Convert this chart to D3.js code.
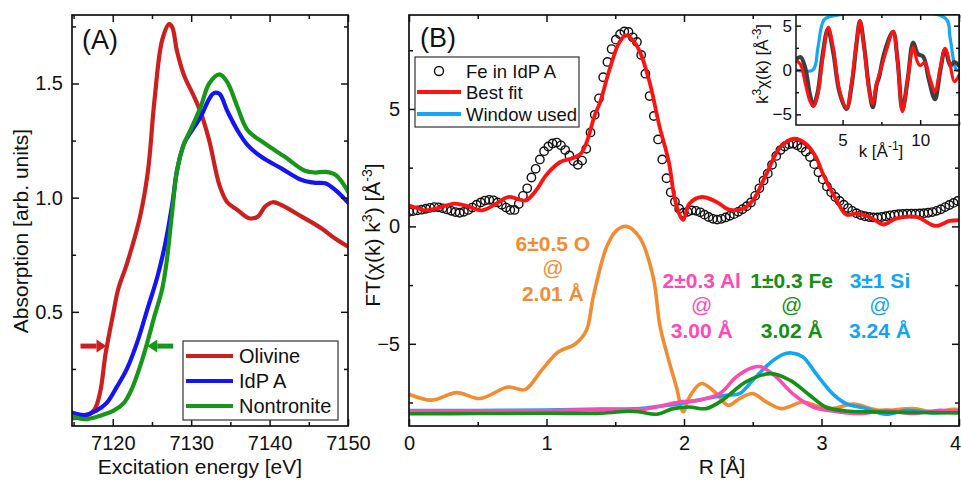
<!DOCTYPE html>
<html>
<head>
<meta charset="utf-8">
<script src="https://cdn.jsdelivr.net/npm/d3@7"></script>
<style>
  body { margin: 0; background: #fff; }
  svg text { font-family: "Liberation Sans", Arial, Helvetica, sans-serif; }
</style>
</head>
<body>
<svg id="chart" width="961" height="480"></svg>
<script>
// ---------- Panel A: Fe K-edge XANES ----------
const energyOlivine = [7114.6,7116.7,7117.7,7118.4,7119.1,7120.1,7120.7,7121.8,7123.5,7124.5,7125.3,7126.3,7127.2,7127.6,7128.2,7129.1,7130.4,7131.2,7132.3,7133.6,7134.6,7135.9,7137.4,7138.5,7139.4,7140.4,7141.5,7144.1,7146.6,7148.4,7150.3];
const absOlivine    = [0.033,0.045,0.074,0.15,0.32,0.50,0.60,0.71,0.92,1.12,1.42,1.69,1.76,1.745,1.64,1.535,1.44,1.375,1.25,1.055,0.98,0.946,0.91,0.917,0.96,0.98,0.968,0.917,0.866,0.82,0.78];

const energyIdpA = [7114.6,7116.4,7117.9,7119.2,7120.5,7121.8,7123.1,7124.4,7125.7,7126.7,7127.6,7128.2,7129.1,7130.1,7131.2,7132.3,7132.9,7133.6,7134.6,7135.9,7137.2,7138.9,7141.5,7144.1,7145.8,7147.1,7148.4,7150.3];
const absIdpA    = [0.06,0.048,0.067,0.10,0.17,0.25,0.365,0.51,0.655,0.80,0.975,1.12,1.237,1.295,1.353,1.433,1.458,1.455,1.38,1.295,1.23,1.18,1.128,1.077,1.065,1.063,1.033,0.968];

const energyNontronite = [7114.6,7116.4,7118.4,7120.1,7121.4,7122.4,7123.5,7124.4,7125.2,7126.3,7126.9,7127.6,7128.2,7129.1,7130.1,7131.2,7132.3,7133.6,7134.6,7135.9,7137.2,7139.4,7141.9,7144.5,7145.8,7147.1,7148.4,7150.3];
const absNontronite    = [0.045,0.03,0.045,0.067,0.10,0.16,0.263,0.365,0.467,0.60,0.728,0.946,1.12,1.237,1.31,1.397,1.50,1.54,1.506,1.397,1.295,1.237,1.18,1.118,1.11,1.113,1.10,1.01];

const xanesNames = ["Olivine", "IdP A", "Nontronite"];
const xanesTicks = [7120, 7130, 7140, 7150];
const xanesMinor = [7115, 7125, 7135, 7145];
const absTicks   = [0.5, 1.0, 1.5];
const absMinor   = [0.25, 0.75, 1.25, 1.75];
// edge positions marked with arrows (energy, absorption)
const edgeOlivine = [7119.2, 0.35];
const edgeNontronite = [7124.4, 0.35];

// ---------- Panel B: Fourier transform ----------
const rStep = 0.0307;
const ftIdpA = [0.62,0.65,0.68,0.71,0.75,0.79,0.82,0.81,0.77,0.72,
                0.66,0.61,0.58,0.62,0.70,0.80,0.92,1.02,1.10,1.13,
                1.11,1.02,0.92,0.80,0.70,0.70,0.95,1.30,1.62,2.08,
                2.45,2.85,3.20,3.40,3.53,3.57,3.45,3.25,3.02,2.78,
                2.62,2.80,3.30,4.00,4.75,5.45,6.35,7.00,7.55,7.95,
                8.18,8.30,8.28,8.05,7.85,7.30,6.50,5.55,4.70,3.70,
                2.85,2.05,1.45,1.05,0.75,0.58,0.62,0.68,0.66,0.60,
                0.50,0.40,0.32,0.29,0.32,0.38,0.45,0.52,0.62,0.73,
                0.86,1.02,1.30,1.62,1.95,2.25,2.62,3.00,3.25,3.40,
                3.50,3.52,3.45,3.35,3.18,2.95,2.65,2.30,2.00,1.70,
                1.45,1.25,1.08,0.92,0.78,0.66,0.56,0.48,0.43,0.40,
                0.38,0.38,0.40,0.43,0.47,0.50,0.52,0.53,0.54,0.54,
                0.54,0.55,0.56,0.58,0.61,0.66,0.73,0.82,0.91,1.00,
                1.08];

const fitR = [0.00,0.06,0.12,0.22,0.33,0.43,0.53,0.63,0.72,0.80,0.85,0.92,1.00,1.10,1.19,1.25,1.29,1.35,1.39,1.46,1.53,1.58,1.63,1.68,1.75,1.82,1.89,1.93,1.97,1.995,2.04,2.13,2.24,2.33,2.43,2.50,2.60,2.70,2.80,2.89,2.96,3.01,3.11,3.18,3.25,3.35,3.45,3.54,3.69,3.83,3.93,4.00];
const fitV = [0.89,0.78,0.68,0.80,0.97,0.85,0.68,0.95,1.25,1.15,1.10,1.50,2.20,2.74,2.90,3.10,3.55,4.72,5.29,6.71,7.84,8.13,7.91,7.42,6.14,4.30,2.74,1.25,0.47,0.28,0.97,1.25,1.03,0.71,0.75,1.10,2.24,3.37,3.73,3.50,2.95,2.24,1.10,0.50,0.54,0.40,0.08,0.33,0.40,0.02,0.23,0.26];

// single-shell contributions (offset below the data)
const shellOR = [0,0.165,0.347,0.516,0.72,0.843,0.964,1.085,1.206,1.29,1.34,1.437,1.51,1.582,1.68,1.776,1.824,1.87,1.945,1.994,2.04,2.127,2.236,2.32,2.405,2.50,2.60,2.71,2.865,2.99,3.08,3.23,3.42,3.665,3.81,3.955,4.0];
const shellOV = [-7.15,-7.40,-7.08,-7.33,-6.84,-6.95,-6.13,-5.35,-5.02,-4.43,-3.0,-0.88,-0.17,0,-0.5,-2.16,-4.2,-5.3,-6.84,-7.9,-7.26,-6.69,-7.12,-7.62,-7.33,-7.12,-7.48,-7.76,-7.48,-7.69,-7.76,-7.57,-7.83,-7.76,-7.9,-7.79,-7.8];

const shellAlR = [0,0.5,1.0,1.4,1.68,1.97,2.11,2.26,2.38,2.5,2.56,2.67,2.79,2.94,3.08,3.28,3.47,3.665,3.86,4.0];
const shellAlV = [-7.88,-7.87,-7.85,-7.8,-7.8,-7.48,-7.4,-7.12,-6.41,-6.01,-5.98,-6.41,-7.12,-7.69,-7.86,-7.97,-7.83,-7.97,-7.83,-7.9];

const shellSiR = [0,0.5,1.0,1.4,1.68,1.82,1.97,2.16,2.31,2.405,2.50,2.62,2.72,2.78,2.865,2.96,3.08,3.18,3.33,3.47,3.62,3.81,4.0];
const shellSiV = [-7.84,-7.84,-7.82,-7.78,-7.76,-7.66,-7.55,-7.33,-7.19,-7.12,-6.55,-5.84,-5.45,-5.39,-5.56,-6.27,-7.12,-7.55,-7.76,-8.0,-7.83,-7.94,-7.86];

const shellFeR = [0,0.5,1.0,1.4,1.6,1.68,1.80,1.92,2.04,2.16,2.28,2.45,2.635,2.77,2.914,3.03,3.18,3.36,3.6,3.8,4.0];
const shellFeV = [-7.98,-7.97,-7.96,-7.95,-7.87,-7.9,-8.0,-7.76,-7.69,-7.76,-7.4,-6.62,-6.27,-6.55,-7.19,-7.69,-7.86,-7.9,-7.92,-7.93,-7.94];

const shellLabels = [
  ["6±0.5 O", "@", "2.01 Å"],
  ["2±0.3 Al", "@", "3.00 Å"],
  ["1±0.3 Fe", "@", "3.02 Å"],
  ["3±1 Si", "@", "3.24 Å"]
];
const shellLabelAt = [[1.046, -1.05], [2.129, -2.62], [2.783, -2.62], [3.425, -2.62]];

const rTicks = [0, 1, 2, 3, 4];
const rMinor = [0.5, 1.5, 2.5, 3.5];
const ftTicks = [-5, 0, 5];
const ftMinor = [-7.5, -2.5, 2.5, 7.5];
const ftLegend = ["Fe in IdP A", "Best fit", "Window used"];

// ---------- Inset: k-space ----------
const kData = [2.0,2.3,2.6,2.9,3.12,3.4,3.7,4.05,4.4,4.8,5.25,5.6,5.9,6.12,6.4,6.7,6.95,7.2,7.35,7.7,8.25,8.55,8.85,9.2,9.55,9.85,10.2,10.55,10.95,11.3,11.6,11.95,12.2,12.5];
const chiData = [1.2,1.45,0.2,-2.8,-4.0,-2.5,1.5,4.6,2.0,-2.5,-4.4,-1.5,3.0,5.5,2.5,-2.0,-4.2,-1.6,-0.8,2.0,4.3,1.0,-4.5,-1.0,3.1,1.8,1.5,-1.0,-3.3,0.0,2.3,0.5,0.9,0.5];
const kFit = [2.0,2.3,2.6,2.9,3.12,3.4,3.7,4.08,4.4,4.8,5.26,5.6,5.9,6.12,6.4,6.7,6.93,7.18,7.5,7.82,8.26,8.55,8.86,9.2,9.55,9.8,9.98,10.3,10.6,10.95,11.3,11.6,11.9,12.2,12.5];
const chiFit = [1.1,0.6,-1.5,-3.5,-4.1,-2.8,1.0,4.8,2.5,-2.3,-4.3,-1.2,3.2,5.55,2.3,-2.2,-3.8,-1.6,0.3,2.2,4.35,0.8,-4.7,-1.0,2.55,1.0,0.5,0.85,-0.8,-2.4,0.3,2.45,0.8,-1.3,-0.6];
const kWindow = [2.0,3.09,3.41,3.69,3.95,11.6,11.92,12.14,12.34,12.5];
const wWindow = [0,0,2.5,5.2,5.86,5.86,3.7,1.2,0,0];
const kTicks = [5, 10];
const kMinor = [7.5, 12.5];
const chiTicks = [-5, 0, 5];
const chiMinor = [-2.5, 2.5];

// ---------- drawing ----------
const svg = d3.select("#chart");
const FONT = '"Liberation Sans", Arial, Helvetica, sans-serif';
const colA = { ol: "#cc1f1f", idp: "#1414f5", non: "#18961a" };
const colB = { fit: "#ff1212", O: "#f28c33", Al: "#ff49b4", Fe: "#158f15", Si: "#13a4f4", win: "#17a6f3", data: "#3f3f3f" };

function frameAxes(g, x, y, o) {
  const [x0, x1] = x.range(), [y0, y1] = y.range();
  const addAxis = (gen, tr, vals, size, fmt, pad, fs) => {
    const a = g.append("g").attr("transform", tr)
      .call(gen.tickValues(vals).tickSize(-size).tickSizeOuter(0).tickPadding(pad).tickFormat(fmt));
    a.select(".domain").remove();
    a.selectAll("line").attr("stroke", "#111").attr("stroke-width", o.tw || 1.5);
    a.selectAll("text").attr("font-family", FONT).attr("font-size", fs).attr("fill", "#111");
    a.attr("font-family", null).attr("font-size", null);
    return a;
  };
  const none = () => "";
  const bx = addAxis(d3.axisBottom(x), `translate(0,${y0})`, o.xMajor, o.maj, o.xFmt, o.xPad, o.fs);
  addAxis(d3.axisBottom(x), `translate(0,${y0})`, o.xMinor, o.min, none, 0, o.fs);
  addAxis(d3.axisTop(x), `translate(0,${y1})`, o.xMajor, o.maj, none, 0, o.fs);
  addAxis(d3.axisTop(x), `translate(0,${y1})`, o.xMinor, o.min, none, 0, o.fs);
  addAxis(d3.axisLeft(y), `translate(${x0},0)`, o.yMajor, o.maj, o.yFmt, o.yPad, o.fs);
  addAxis(d3.axisLeft(y), `translate(${x0},0)`, o.yMinor, o.min, none, 0, o.fs);
  addAxis(d3.axisRight(y), `translate(${x1},0)`, o.yMajor, o.maj, none, 0, o.fs);
  addAxis(d3.axisRight(y), `translate(${x1},0)`, o.yMinor, o.min, none, 0, o.fs);
  g.append("rect").attr("x", x0).attr("y", y1).attr("width", x1 - x0).attr("height", y0 - y1)
    .attr("fill", "none").attr("stroke", "#111").attr("stroke-width", o.fw || 1.7);
  return bx;
}

function clipFor(id, x, y) {
  const [x0, x1] = x.range(), [y0, y1] = y.range();
  svg.append("clipPath").attr("id", id).append("rect")
    .attr("x", x0).attr("y", y1).attr("width", x1 - x0).attr("height", y0 - y1);
  return `url(#${id})`;
}

function curve(g, x, y, xs, ys, color, width, clip) {
  const pts = xs.map((d, i) => [d, ys[i]]);
  g.append("path").datum(pts)
    .attr("d", d3.line().x(d => x(d[0])).y(d => y(d[1])).curve(d3.curveCatmullRom.alpha(0.5)))
    .attr("fill", "none").attr("stroke", color).attr("stroke-width", width)
    .attr("stroke-linejoin", "round").attr("stroke-linecap", "round")
    .attr("clip-path", clip);
}

// ===== Panel A =====
const xA = d3.scaleLinear().domain([7114.8, 7150]).range([72, 348]);
const yA = d3.scaleLinear().domain([0, 1.8]).range([426, 15]);
const gA = svg.append("g");
const clipA = clipFor("clipA", xA, yA);

curve(gA, xA, yA, energyOlivine, absOlivine, colA.ol, 4.2, clipA);
curve(gA, xA, yA, energyIdpA, absIdpA, colA.idp, 4.2, clipA);
curve(gA, xA, yA, energyNontronite, absNontronite, colA.non, 4.2, clipA);

frameAxes(gA, xA, yA, {
  xMajor: xanesTicks, xMinor: xanesMinor, yMajor: absTicks, yMinor: absMinor,
  xFmt: d3.format("d"), yFmt: d3.format(".1f"), maj: 7, min: 4, xPad: 10, yPad: 9, fs: 20
});

// edge arrows
function arrow(g, xTip, yc, dir, color) {
  const len = 26, head = 10, hw = 6.5, lw = 5;
  const s = dir === "right" ? -1 : 1; // tail direction
  const xb = xTip + s * head;
  g.append("line").attr("x1", xTip + s * len).attr("x2", xb).attr("y1", yc).attr("y2", yc)
    .attr("stroke", color).attr("stroke-width", lw);
  g.append("path").attr("d", `M${xTip},${yc} L${xb},${yc - hw} L${xb},${yc + hw} Z`).attr("fill", color);
}
arrow(gA, xA(edgeOlivine[0]), yA(edgeOlivine[1]), "right", colA.ol);
arrow(gA, xA(edgeNontronite[0]), yA(edgeNontronite[1]), "left", colA.non);

// legend A
const legA = gA.append("g");
legA.append("rect").attr("x", 183).attr("y", 341).attr("width", 155).attr("height", 79)
  .attr("fill", "#fff").attr("stroke", "#333").attr("stroke-width", 1.2);
[colA.ol, colA.idp, colA.non].forEach((c, i) => {
  const yy = 356 + i * 25;
  legA.append("line").attr("x1", 186).attr("x2", 233).attr("y1", yy).attr("y2", yy)
    .attr("stroke", c).attr("stroke-width", 4.2);
  legA.append("text").attr("x", 239).attr("y", yy + 7).attr("font-size", 20).attr("fill", "#111")
    .text(xanesNames[i]);
});

gA.append("text").attr("x", 82).attr("y", 49).attr("font-size", 27).attr("fill", "#111").text("(A)");
gA.append("text").attr("x", 200).attr("y", 474).attr("text-anchor", "middle").attr("font-size", 21)
  .attr("fill", "#111").text("Excitation energy [eV]");
gA.append("text").attr("transform", "translate(28,231) rotate(-90)").attr("text-anchor", "middle")
  .attr("font-size", 21).attr("fill", "#111").text("Absorption [arb. units]");

// ===== Panel B =====
const xB = d3.scaleLinear().domain([0, 4]).range([409, 959]);
const yB = d3.scaleLinear().domain([-8.5, 9]).range([426, 15]);
const gB = svg.append("g");
const clipB = clipFor("clipB", xB, yB);

curve(gB, xB, yB, shellOR, shellOV, colB.O, 3.6, clipB);
curve(gB, xB, yB, shellSiR, shellSiV, colB.Si, 3.6, clipB);
curve(gB, xB, yB, shellAlR, shellAlV, colB.Al, 3.6, clipB);
curve(gB, xB, yB, shellFeR, shellFeV, colB.Fe, 3.6, clipB);

gB.append("g").attr("clip-path", clipB).selectAll("circle")
  .data(ftIdpA).join("circle")
  .attr("cx", (d, i) => xB(i * rStep)).attr("cy", d => yB(d)).attr("r", 4.2)
  .attr("fill", "none").attr("stroke", "#111").attr("stroke-width", 1.4);

curve(gB, xB, yB, fitR, fitV, colB.fit, 3.8, clipB);

const bAxis = frameAxes(gB, xB, yB, {
  xMajor: rTicks, xMinor: rMinor, yMajor: ftTicks, yMinor: ftMinor,
  xFmt: d3.format("d"), yFmt: d3.format("d"), maj: 7, min: 4, xPad: 10, yPad: 9, fs: 20
});
// last R label sits at the page edge: pull it in slightly
bAxis.selectAll(".tick text").filter(d => d === 4).attr("dx", -4);

// shell annotations
const shellColors = [colB.O, colB.Al, colB.Fe, colB.Si];
shellLabels.forEach((lines, i) => {
  const t = gB.append("text").attr("text-anchor", "middle").attr("fill", shellColors[i]).attr("font-size", 21);
  lines.forEach((s, j) => {
    t.append("tspan").attr("x", xB(shellLabelAt[i][0]))
      .attr("y", yB(shellLabelAt[i][1]) + [0, 24, 50][j])
      .attr("font-weight", j === 1 ? "normal" : "bold").text(s);
  });
});

// legend B
const legB = gB.append("g");
legB.append("rect").attr("x", 415).attr("y", 57).attr("width", 164).attr("height", 70)
  .attr("fill", "#fff").attr("stroke", "#333").attr("stroke-width", 1.2);
legB.append("circle").attr("cx", 439).attr("cy", 71).attr("r", 4.5)
  .attr("fill", "none").attr("stroke", "#111").attr("stroke-width", 1.4);
legB.append("line").attr("x1", 417).attr("x2", 461).attr("y1", 92).attr("y2", 92)
  .attr("stroke", colB.fit).attr("stroke-width", 4);
legB.append("line").attr("x1", 417).attr("x2", 461).attr("y1", 114).attr("y2", 114)
  .attr("stroke", colB.win).attr("stroke-width", 4);
ftLegend.forEach((s, i) => {
  legB.append("text").attr("x", 466).attr("y", 77.5 + i * 21.5).attr("font-size", 18.5).attr("fill", "#111").text(s);
});

gB.append("text").attr("x", 420).attr("y", 47).attr("font-size", 27).attr("fill", "#111").text("(B)");
gB.append("text").attr("x", 722).attr("y", 474).attr("text-anchor", "middle").attr("font-size", 21)
  .attr("fill", "#111").text("R [Å]");
const yLabB = gB.append("text").attr("transform", "translate(380,235) rotate(-90)").attr("text-anchor", "middle")
  .attr("font-size", 21).attr("fill", "#111");
yLabB.append("tspan").text("FT(χ(k) k");
yLabB.append("tspan").attr("dy", -8).attr("font-size", 14).text("3");
yLabB.append("tspan").attr("dy", 8).text(") [Å");
yLabB.append("tspan").attr("dy", -8).attr("font-size", 14).text("-3");
yLabB.append("tspan").attr("dy", 8).text("]");

// ===== Inset =====
const xI = d3.scaleLinear().domain([2, 12.5]).range([796, 959]);
const yI = d3.scaleLinear().domain([-6.2, 6.2]).range([125, 15]);
const gI = svg.append("g");
gI.append("rect").attr("x", 796).attr("y", 15).attr("width", 163).attr("height", 110).attr("fill", "#fff");
const clipI = clipFor("clipI", xI, yI);
curve(gI, xI, yI, kWindow, wWindow, colB.win, 3.2, clipI);
curve(gI, xI, yI, kData, chiData, colB.data, 4.2, clipI);
curve(gI, xI, yI, kFit, chiFit, colB.fit, 3.2, clipI);

frameAxes(gI, xI, yI, {
  xMajor: kTicks, xMinor: kMinor, yMajor: chiTicks, yMinor: chiMinor,
  xFmt: d3.format("d"), yFmt: d3.format("d"), maj: 5, min: 3, xPad: 9, yPad: 4, fs: 17, fw: 1.5
});

const kLab = gI.append("text").attr("x", 881).attr("y", 157).attr("text-anchor", "middle")
  .attr("font-size", 17).attr("fill", "#111");
kLab.append("tspan").text("k [Å");
kLab.append("tspan").attr("dy", -7).attr("font-size", 12).text("-1");
kLab.append("tspan").attr("dy", 7).text("]");

const chiLab = gI.append("text").attr("transform", "translate(768,64) rotate(-90)").attr("text-anchor", "middle")
  .attr("font-size", 17).attr("fill", "#111");
chiLab.append("tspan").text("k");
chiLab.append("tspan").attr("dy", -7).attr("font-size", 12).text("3");
chiLab.append("tspan").attr("dy", 7).text("χ(k) [Å");
chiLab.append("tspan").attr("dy", -7).attr("font-size", 12).text("-3");
chiLab.append("tspan").attr("dy", 7).text("]");
</script>
</body>
</html>
